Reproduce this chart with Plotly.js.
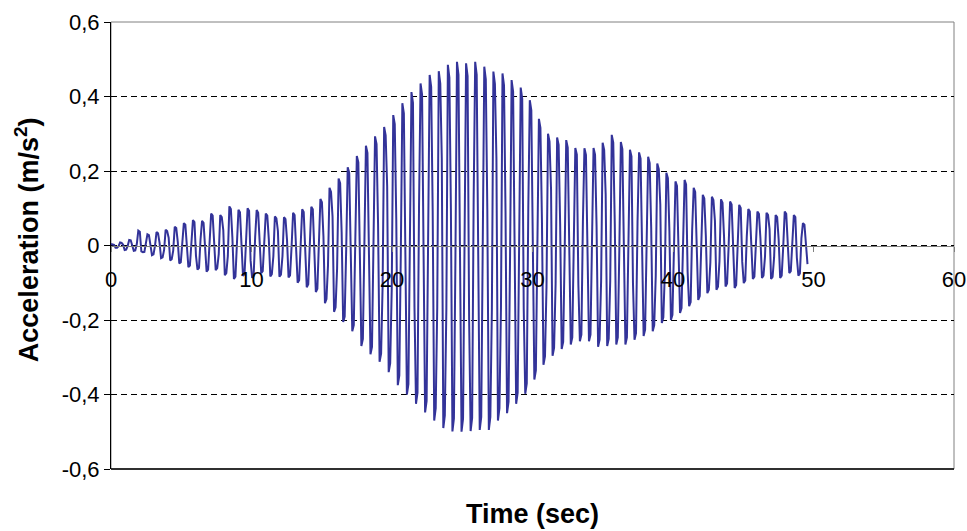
<!DOCTYPE html>
<html>
<head>
<meta charset="utf-8">
<script src="https://cdn.plot.ly/plotly-3.0.1.min.js"></script>
<style>
  html, body { margin: 0; padding: 0; background: #fff; }
  #chart { width: 967px; height: 531px; }
</style>
</head>
<body>
<div id="chart"></div>
<script>
// Sampling interval of the acceleration record (s)
const dt = 0.108;

// Acceleration samples (m/s^2)
const accel = [
  0.004, 0.004, 0.002, -0.006, -0.006, -0.002, 0.008, 0.007, 0.002, -0.012, -0.011, -0.001,
  0.015, 0.014, -0.002, -0.014, -0.013, 0.004, 0.040, 0.037, -0.016, -0.018, -0.017, 0.005,
  0.030, 0.028, -0.003, -0.026, -0.024, -0.001, 0.036, 0.033, 0.007, -0.034, -0.032, -0.012,
  0.042, 0.039, 0.021, -0.040, -0.037, -0.014, 0.050, 0.047, 0.010, -0.048, -0.045, -0.002,
  0.060, 0.056, -0.006, -0.058, -0.054, 0.015, 0.068, 0.063, -0.027, -0.065, -0.060, 0.016,
  0.066, 0.061, -0.007, -0.070, -0.065, -0.004, 0.086, 0.080, 0.017, -0.066, -0.061, -0.023,
  0.082, 0.076, 0.041, -0.080, -0.074, -0.028, 0.105, 0.098, 0.021, -0.090, -0.084, -0.005,
  0.096, 0.089, -0.010, -0.082, -0.076, 0.021, 0.100, 0.093, -0.040, -0.087, -0.081, 0.022,
  0.095, 0.088, -0.010, -0.074, -0.069, -0.004, 0.086, 0.080, 0.017, -0.083, -0.077, -0.029,
  0.078, 0.073, 0.039, -0.084, -0.078, -0.029, 0.076, 0.071, 0.015, -0.086, -0.080, -0.004,
  0.088, 0.082, -0.009, -0.100, -0.093, 0.025, 0.097, 0.090, -0.039, -0.112, -0.104, 0.028,
  0.104, 0.097, -0.010, -0.125, -0.116, -0.006, 0.125, 0.116, 0.025, -0.155, -0.144, -0.054,
  0.155, 0.144, 0.078, -0.178, -0.166, -0.062, 0.180, 0.167, 0.036, -0.205, -0.191, -0.010,
  0.210, 0.195, -0.021, -0.230, -0.214, 0.058, 0.240, 0.223, -0.096, -0.270, -0.251, 0.068,
  0.268, 0.249, -0.027, -0.292, -0.272, -0.015, 0.293, 0.272, 0.059, -0.312, -0.290, -0.109,
  0.318, 0.296, 0.159, -0.340, -0.316, -0.119, 0.350, 0.326, 0.070, -0.375, -0.349, -0.019,
  0.382, 0.355, -0.038, -0.400, -0.372, 0.100, 0.412, 0.383, -0.165, -0.425, -0.395, 0.106,
  0.435, 0.405, -0.044, -0.448, -0.417, -0.022, 0.458, 0.426, 0.092, -0.470, -0.437, -0.165,
  0.468, 0.435, 0.234, -0.490, -0.456, -0.172, 0.485, 0.451, 0.097, -0.499, -0.464, -0.025,
  0.493, 0.458, -0.049, -0.500, -0.465, 0.125, 0.489, 0.455, -0.196, -0.498, -0.463, 0.125,
  0.493, 0.458, -0.049, -0.495, -0.460, -0.025, 0.480, 0.446, 0.096, -0.495, -0.460, -0.173,
  0.467, 0.434, 0.234, -0.470, -0.437, -0.165, 0.462, 0.430, 0.092, -0.450, -0.419, -0.023,
  0.444, 0.413, -0.044, -0.425, -0.395, 0.106, 0.424, 0.394, -0.170, -0.398, -0.370, 0.100,
  0.390, 0.363, -0.039, -0.360, -0.335, -0.018, 0.340, 0.316, 0.068, -0.320, -0.298, -0.112,
  0.300, 0.279, 0.150, -0.296, -0.275, -0.104, 0.290, 0.270, 0.058, -0.278, -0.259, -0.014,
  0.283, 0.263, -0.028, -0.266, -0.247, 0.067, 0.262, 0.244, -0.105, -0.257, -0.239, 0.064,
  0.261, 0.243, -0.026, -0.257, -0.239, -0.013, 0.262, 0.244, 0.052, -0.272, -0.253, -0.095,
  0.276, 0.257, 0.138, -0.270, -0.251, -0.095, 0.297, 0.276, 0.059, -0.266, -0.247, -0.013,
  0.278, 0.259, -0.028, -0.266, -0.247, 0.067, 0.257, 0.239, -0.103, -0.253, -0.235, 0.063,
  0.250, 0.233, -0.025, -0.243, -0.226, -0.012, 0.238, 0.221, 0.048, -0.230, -0.214, -0.081,
  0.220, 0.205, 0.110, -0.208, -0.193, -0.073, 0.195, 0.181, 0.039, -0.200, -0.186, -0.010,
  0.172, 0.160, -0.017, -0.181, -0.168, 0.045, 0.176, 0.164, -0.070, -0.163, -0.152, 0.041,
  0.155, 0.144, -0.016, -0.146, -0.136, -0.007, 0.136, 0.126, 0.027, -0.128, -0.119, -0.045,
  0.131, 0.122, 0.066, -0.119, -0.111, -0.042, 0.124, 0.115, 0.025, -0.110, -0.102, -0.006,
  0.118, 0.110, -0.012, -0.114, -0.106, 0.029, 0.109, 0.101, -0.044, -0.101, -0.094, 0.025,
  0.098, 0.091, -0.010, -0.090, -0.084, -0.005, 0.091, 0.085, 0.018, -0.087, -0.081, -0.030,
  0.088, 0.082, 0.044, -0.090, -0.084, -0.032, 0.082, 0.076, 0.016, -0.087, -0.081, -0.004,
  0.091, 0.085, -0.009, -0.074, -0.069, 0.019, 0.082, 0.076, -0.033, -0.081, -0.075, 0.020,
  0.060, 0.056, -0.006, -0.050
];

// Tick values and labels
const xTickVals = [0, 10, 20, 30, 40, 50, 60];
const xTickText = ["0", "10", "20", "30", "40", "50", "60"];
const yTickVals = [-0.6, -0.4, -0.2, 0, 0.2, 0.4, 0.6];
const yTickText = ["-0,6", "-0,4", "-0,2", "0", "0,2", "0,4", "0,6"];

// Titles
const xTitle = "<b>Time (sec)</b>";
const yTitle = "<b>Acceleration (m/s<sup>2</sup>)</b>";

const FONT = "Liberation Sans, Arial, sans-serif";

const trace = {
  type: "scatter",
  mode: "lines",
  x0: 0,
  dx: dt,
  y: accel,
  line: { color: "#333399", width: 2 },
  hoverinfo: "skip"
};

const layout = {
  width: 967,
  height: 531,
  margin: { l: 111, r: 13, t: 22, b: 62 },
  paper_bgcolor: "#ffffff",
  plot_bgcolor: "#ffffff",
  showlegend: false,
  font: { family: FONT, color: "#000000" },
  xaxis: {
    range: [0, 60],
    tickmode: "array",
    tickvals: xTickVals,
    ticktext: xTickText,
    anchor: "free",
    position: 0.5,
    showline: true,
    linecolor: "#808080",
    linewidth: 1.5,
    ticks: "outside",
    ticklen: 5,
    tickwidth: 1,
    tickcolor: "#808080",
    ticklabelstandoff: 9,
    tickfont: { family: FONT, size: 22, color: "#000000" },
    showgrid: false,
    zeroline: false,
    fixedrange: true
  },
  yaxis: {
    range: [-0.6, 0.6],
    tickmode: "array",
    tickvals: yTickVals,
    ticktext: yTickText,
    showline: true,
    linecolor: "#000000",
    linewidth: 1,
    ticks: "outside",
    ticklen: 6,
    tickwidth: 1,
    tickcolor: "#000000",
    tickfont: { family: FONT, size: 22, color: "#000000" },
    showgrid: true,
    gridcolor: "#000000",
    gridwidth: 1,
    griddash: "6px,4px",
    zeroline: false,
    fixedrange: true
  },
  shapes: [
    { type: "rect", xref: "paper", yref: "paper", x0: 0, x1: 1, y0: 0, y1: 1,
      line: { color: "#808080", width: 1 }, layer: "below" },
    { type: "line", xref: "paper", yref: "paper", x0: 0, x1: 1, y0: 0, y1: 0,
      line: { color: "#000000", width: 1.5 }, layer: "below" }
  ],
  annotations: [
    { text: xTitle, xref: "paper", yref: "paper", x: 0.5, y: -0.1, xanchor: "center", yanchor: "middle",
      showarrow: false, font: { family: FONT, size: 27, color: "#000000" } },
    { text: yTitle, xref: "paper", yref: "paper", x: -0.0996, y: 0.512, xanchor: "center", yanchor: "middle",
      textangle: -90, showarrow: false, font: { family: FONT, size: 27, color: "#000000" } }
  ]
};

Plotly.newPlot("chart", [trace], layout, { displayModeBar: false, staticPlot: true });
</script>
</body>
</html>
